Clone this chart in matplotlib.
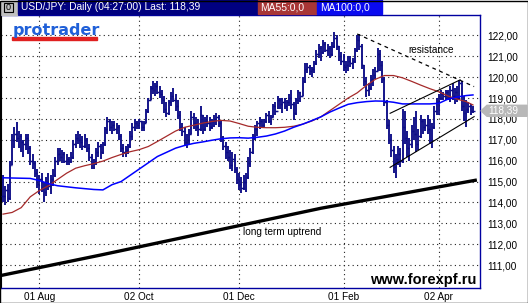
import numpy as np
import matplotlib
matplotlib.use('Agg')
import matplotlib.pyplot as plt
from matplotlib.patches import Rectangle, Polygon

plt.rcParams['font.family'] = ['Liberation Sans', 'DejaVu Sans']

# Дневные бары USD/JPY (high / low / close), по порядку слева направо
high = [115.3, 114.8, 114.9, 116.0, 117.3, 117.6, 117.85, 117.4, 117.3, 117.0,
        117.3, 117.3, 116.7, 116.3, 116.0, 115.6, 115.3, 115.4, 115.0, 115.2,
        115.4, 115.3, 115.6, 116.2, 116.6, 116.6, 116.5, 116.4, 116.3, 116.2,
        116.4, 117.0, 117.3, 117.4, 117.3, 117.2, 117.3, 117.1, 116.8, 116.3,
        116.1, 116.6, 116.9, 116.8, 116.9, 117.6, 118.1, 118.0, 117.9, 117.9,
        117.8, 117.7, 117.3, 116.8, 116.7, 116.8, 117.4, 117.8, 118.0, 117.9,
        118.0, 117.9, 117.9, 118.5, 119.0, 119.6, 119.8, 119.7, 119.8, 119.6,
        119.4, 119.1, 118.8, 118.9, 119.3, 119.5, 119.2, 118.9, 118.4, 117.8,
        117.6, 117.3, 117.5, 118.4, 118.3, 118.1, 118.0, 118.6, 118.2, 118.1,
        118.2, 118.1, 118.0, 118.2, 118.3, 118.2, 117.9, 117.2, 116.9, 116.7,
        116.5, 116.4, 116.3, 115.7, 115.4, 115.2, 115.3, 115.4, 116.2, 116.6,
        117.3, 117.7, 117.9, 118.1, 118.0, 118.0, 118.3, 118.4, 118.2, 118.7,
        118.8, 119.1, 119.0, 119.0, 119.0, 118.9, 119.2, 119.4, 118.8, 119.0,
        119.4, 119.3, 120.0, 120.7, 120.7, 120.6, 120.5, 120.8, 121.3, 121.6,
        121.5, 121.8, 121.7, 121.6, 121.5, 121.7, 122.15, 122.0, 121.5, 121.2,
        121.1, 120.8, 121.0, 121.0, 120.9, 121.4, 122.0, 122.05, 121.6, 120.6,
        120.0, 119.7, 120.1, 120.4, 120.5, 121.4, 121.3, 120.8, 120.0, 118.9,
        117.95, 117.3, 116.7, 116.3, 116.7, 116.6, 118.5, 118.4, 117.4, 117.1,
        117.7, 118.1, 118.4, 117.5, 118.2, 118.0, 118.0, 118.2, 118.0, 117.8,
        118.6, 119.0, 119.2, 119.4, 119.3, 119.4, 119.4, 119.6, 119.7, 119.5,
        119.6, 119.85, 119.8, 119.1, 118.9, 118.8, 118.7, 118.6]
low = [114.0, 113.9, 114.0, 114.1, 115.8, 116.6, 116.9, 116.6, 116.4, 116.2,
       116.5, 116.3, 115.8, 115.6, 115.2, 114.7, 114.4, 114.5, 114.0, 114.3,
       114.6, 114.4, 114.8, 115.2, 115.8, 116.0, 115.9, 115.9, 115.8, 115.8,
       115.9, 116.1, 116.6, 116.8, 116.6, 116.5, 116.6, 116.4, 116.0, 115.6,
       115.6, 115.8, 116.2, 116.1, 116.3, 116.7, 117.3, 117.4, 117.3, 117.4,
       117.3, 117.0, 116.4, 116.2, 116.2, 116.3, 116.6, 117.0, 117.4, 117.5,
       117.5, 117.4, 117.4, 117.8, 118.3, 118.9, 119.2, 119.1, 119.2, 119.0,
       118.7, 118.3, 118.1, 118.2, 118.6, 118.8, 118.4, 118.0, 117.4, 117.2,
       116.7, 116.6, 116.8, 117.3, 117.5, 117.4, 117.2, 117.4, 117.3, 117.4,
       117.6, 117.4, 117.5, 117.6, 117.7, 117.6, 116.9, 116.5, 116.1, 116.0,
       115.6, 115.5, 115.4, 114.9, 114.6, 114.45, 114.6, 114.5, 115.1, 115.7,
       116.3, 117.0, 117.2, 117.5, 117.6, 117.6, 117.8, 117.8, 117.7, 118.1,
       118.2, 118.5, 118.5, 118.3, 118.5, 118.4, 118.6, 118.5, 117.95, 118.2,
       118.7, 118.8, 119.1, 119.7, 120.2, 120.1, 120.0, 120.2, 120.6, 120.9,
       120.8, 121.1, 121.2, 121.0, 120.9, 121.0, 121.4, 121.3, 120.8, 120.6,
       120.3, 120.2, 120.3, 120.5, 120.4, 120.7, 121.2, 121.3, 120.4, 119.6,
       119.05, 119.1, 119.4, 119.6, 119.9, 120.3, 120.3, 119.7, 118.6, 117.5,
       116.8, 116.2, 115.4, 115.15, 115.8, 115.7, 115.9, 116.8, 116.2, 116.0,
       116.6, 117.0, 116.4, 116.5, 117.1, 117.3, 117.4, 117.3, 116.8, 116.6,
       117.5, 118.2, 118.2, 118.9, 118.9, 118.9, 118.9, 118.8, 118.9, 118.7,
       118.8, 118.9, 118.4, 117.9, 117.6, 118.3, 118.2, 118.3]
close = [114.3, 114.6, 114.2, 115.8, 117.0, 117.3, 117.1, 117.2, 116.9, 116.8,
         117.1, 116.6, 116.0, 115.9, 115.4, 114.9, 115.1, 114.7, 114.5, 115.0,
         114.8, 115.1, 115.3, 116.0, 116.3, 116.2, 116.3, 116.0, 116.1, 116.0,
         116.2, 116.8, 117.1, 117.0, 116.9, 116.7, 117.0, 116.6, 116.2, 115.9,
         115.9, 116.4, 116.7, 116.4, 116.8, 117.5, 117.9, 117.6, 117.7, 117.5,
         117.6, 117.2, 116.6, 116.4, 116.5, 116.7, 117.2, 117.6, 117.8, 117.7,
         117.9, 117.6, 117.8, 118.4, 118.9, 119.5, 119.4, 119.6, 119.3, 119.2,
         118.9, 118.5, 118.3, 118.8, 119.1, 118.9, 118.6, 118.2, 117.6, 117.4,
         116.9, 117.0, 117.3, 118.1, 117.8, 117.6, 117.5, 118.2, 117.5, 117.9,
         117.8, 117.6, 117.9, 118.0, 118.1, 117.8, 117.1, 116.7, 116.4, 116.2,
         115.8, 116.1, 115.6, 115.1, 114.9, 114.7, 115.0, 115.2, 115.9, 116.4,
         117.1, 117.5, 117.8, 117.9, 117.7, 117.9, 118.2, 117.9, 118.1, 118.6,
         118.4, 118.9, 118.7, 118.8, 118.6, 118.8, 119.0, 118.7, 118.3, 118.9,
         119.3, 119.1, 119.8, 120.4, 120.5, 120.3, 120.4, 120.7, 121.1, 121.4,
         121.2, 121.6, 121.3, 121.4, 121.1, 121.5, 121.9, 121.5, 121.0, 120.8,
         120.5, 120.6, 120.8, 120.7, 120.8, 121.3, 121.8, 121.5, 120.6, 119.8,
         119.4, 119.5, 119.9, 120.1, 120.3, 121.1, 120.6, 119.9, 118.8, 117.7,
         117.0, 116.5, 115.7, 116.1, 116.3, 116.0, 117.6, 117.1, 116.6, 116.8,
         117.4, 117.3, 116.8, 117.2, 117.9, 117.6, 117.7, 117.5, 117.0, 117.6,
         118.4, 118.8, 119.0, 119.2, 119.1, 119.3, 119.0, 119.4, 119.1, 119.3,
         119.0, 119.7, 118.6, 118.3, 118.5, 118.6, 118.4, 118.39]

ma_idx = [0, 4, 8, 12, 16, 20, 24, 28, 32, 36, 40, 44, 48, 52, 56, 60, 64, 68,
          72, 76, 80, 84, 88, 92, 96, 100, 104, 108, 112, 116, 120, 124, 128,
          132, 136, 140, 144, 148, 152, 156, 160, 164, 168, 172, 176, 180, 184,
          188, 192, 196, 200, 204, 207]
ma55 = [113.44, 113.52, 113.75, 114.27, 114.57, 114.8, 115.1, 115.4, 115.64,
        115.76, 115.86, 115.98, 116.15, 116.3, 116.43, 116.53, 116.68, 116.92,
        117.17, 117.42, 117.6, 117.7, 117.8, 117.88, 117.93, 117.9, 117.78,
        117.65, 117.6, 117.58, 117.58, 117.6, 117.65, 117.75, 117.9, 118.1,
        118.4, 118.7, 119.0, 119.25, 119.6, 119.9, 120.08, 120.08, 119.97,
        119.8, 119.62, 119.45, 119.3, 119.1, 118.95, 118.83, 118.67]
ma100 = [115.18, 115.17, 115.16, 115.15, 115.05, 114.9, 114.8, 114.75, 114.7,
         114.66, 114.62, 114.6, 114.85, 115.0, 115.3, 115.6, 115.9, 116.2,
         116.4, 116.6, 116.73, 116.83, 116.9, 116.98, 117.05, 117.09, 117.1,
         117.08, 117.12, 117.18, 117.28, 117.42, 117.6, 117.75, 117.92, 118.1,
         118.33, 118.52, 118.7, 118.78, 118.83, 118.86, 118.85, 118.8, 118.72,
         118.72, 118.72, 118.72, 118.75, 118.95, 119.05, 119.12, 119.15]

# Линии разметки
trend_idx = [0, 43, 140, 176, 208]
trend_val = [110.52, 111.48, 113.72, 114.43, 115.06]
resist_idx = [156, 207.5]
resist_val = [122.07, 119.55]
chan_up_idx = [170.5, 201.3]
chan_up_val = [118.27, 119.87]
chan_lo_idx = [170.5, 207.5]
chan_lo_val = [115.68, 118.11]

tick_pos = [16, 60, 104, 150, 192]
tick_labels = ['01 Aug', '02 Oct', '01 Dec', '01 Feb', '02 Apr']
price_ticks = list(range(111, 123))
last_price = 118.39

W, H = 528, 303
navy = '#0c0c86'


def fx(px):
    return px / W


def fy(py):
    return 1 - py / H


fig = plt.figure(figsize=(W / 100, H / 100), dpi=100)
fig.patch.set_facecolor('white')
ax = fig.add_axes([fx(1), 15 / H, 479 / W, 273 / H])
ax.set_facecolor('white')

x = np.arange(len(close))
opens = [close[0]] + close[:-1]
ax.vlines(x, low, high, color=navy, lw=1.35, zorder=3)
ax.hlines(opens, x - 0.7, x, color=navy, lw=1.0, zorder=3)
ax.hlines(close, x, x + 0.7, color=navy, lw=1.0, zorder=3)

ax.plot(ma_idx, ma55, color='#a52a2a', lw=0.9, zorder=4)
ax.plot(ma_idx, ma100, color='#0000ff', lw=1.1, zorder=4)

ax.plot(trend_idx, trend_val, color='black', lw=2.4, zorder=5)
ax.plot(resist_idx, resist_val, color='black', lw=0.9, ls=(0, (3, 3)), zorder=5)
ax.plot(chan_up_idx, chan_up_val, color='black', lw=0.8, zorder=5)
ax.plot(chan_lo_idx, chan_lo_val, color='black', lw=0.8, zorder=5)

ax.text(188.5, 121.3, 'resistance', fontsize=7.2, ha='center', va='center')
ax.text(123, 112.6, 'long term uptrend', fontsize=7.2, ha='center', va='center')

ax.set_xlim(-0.9, 210.1)
ax.set_ylim(109.9, 122.98)

ax.set_yticks(price_ticks)
ax.set_yticklabels([f'{v:.2f}'.replace('.', ',') for v in price_ticks])
ax.yaxis.tick_right()
ax.set_xticks(tick_pos)
ax.set_xticklabels(tick_labels)
ax.tick_params(axis='y', length=0, pad=5, labelsize=7.2)
ax.tick_params(axis='x', length=0, pad=3, labelsize=7.2)

ax.grid(True, color='#202020', lw=0.8, ls=(0, (1, 3)), zorder=1)
ax.set_axisbelow(True)

for side in ['top', 'right', 'bottom']:
    ax.spines[side].set_color('#0000a0')
    ax.spines[side].set_linewidth(1)
ax.spines['left'].set_color('black')

# водяные знаки
ax.text(0.992, 0.015, 'www.forexpf.ru', transform=ax.transAxes, ha='right',
        va='baseline', fontsize=10.5, fontweight='bold', zorder=6)
fig.text(fx(13), fy(35), 'protrader', fontsize=11.5, fontweight='bold',
         color='#2060d8', family='DejaVu Sans', va='baseline')
fig.patches.append(Rectangle((fx(12), fy(39.5)), 85 / W, 2.5 / H,
                             transform=fig.transFigure, color='#e02020'))

# шапка
fig.patches.append(Rectangle((fx(1), fy(15)), 16 / W, 14 / H,
                             transform=fig.transFigure, color='#c0c0c0'))
fig.patches.append(Rectangle((fx(4), fy(12)), 9 / W, 9 / H, fill=False,
                             transform=fig.transFigure, ec='black', lw=0.8))
fig.text(fx(8.5), fy(7.5), '0', fontsize=6.5, ha='center', va='center')
fig.patches.append(Rectangle((fx(18), fy(14)), 240 / W, 14 / H,
                             transform=fig.transFigure, color='#000080'))
fig.text(fx(21), fy(7.5), 'USD/JPY: Daily (04:27:00) Last: 118,39',
         fontsize=7.4, color='white', va='center')
fig.patches.append(Rectangle((fx(258), fy(14)), 58 / W, 14 / H,
                             transform=fig.transFigure, color='#a83636'))
fig.text(fx(260), fy(7.5), 'MA55:0,0', fontsize=7.4, color='white', va='center')
fig.patches.append(Rectangle((fx(317), fy(14)), 65 / W, 14 / H,
                             transform=fig.transFigure, color='#0a0af0'))
fig.text(fx(320), fy(7.5), 'MA100:0,0', fontsize=7.4, color='white', va='center')

# метка последней цены
ty = 15 + (122.98 - last_price) / (122.98 - 109.9) * 273
tag = Polygon([(fx(481), fy(ty)), (fx(487), fy(ty - 5.5)), (fx(527), fy(ty - 5.5)),
               (fx(527), fy(ty + 5.5)), (fx(487), fy(ty + 5.5))],
              closed=True, transform=fig.transFigure, color='#b8b8b8', zorder=10)
fig.patches.append(tag)
fig.text(fx(488), fy(ty), f'{last_price:.2f}'.replace('.', ','), fontsize=7.2,
         color='white', va='center', zorder=11)

# рамка
fig.patches.append(Rectangle((0, 0), 1 - 0.5 / W, 1 - 0.5 / H, fill=False,
                             transform=fig.transFigure, ec='black', lw=1))

fig.savefig('out.png', dpi=100)
